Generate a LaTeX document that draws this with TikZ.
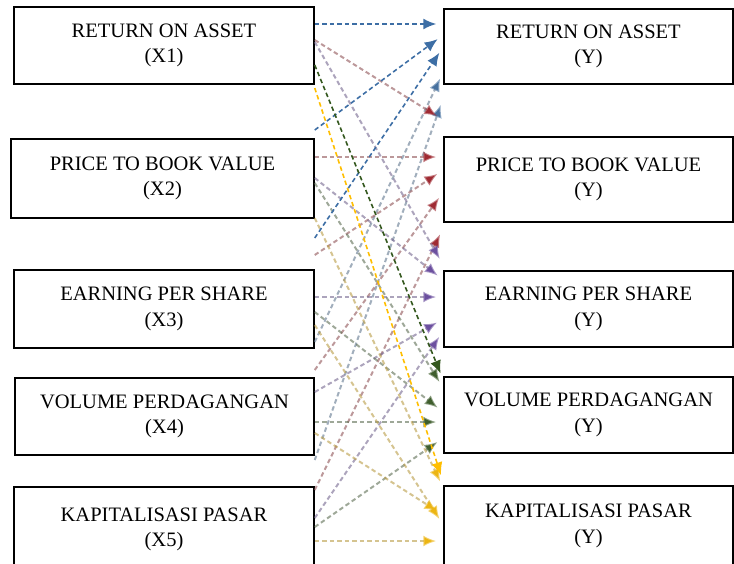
\documentclass[tikz,border=0pt]{standalone}
\usepackage{fontspec}
\setmainfont{Liberation Serif}
\usepackage{xcolor}
\usepackage{tikz}
\usetikzlibrary{arrows.meta, calc}

\definecolor{roaBlue}{RGB}{61,110,165}
\definecolor{pbvRed}{RGB}{165,28,38}
\definecolor{epsPurple}{RGB}{105,72,165}
\definecolor{volGreen}{RGB}{52,88,30}
\definecolor{capGold}{RGB}{255,190,0}

\tikzset{
  varbox/.style={draw, line width=1.5pt, inner sep=0pt, align=center,
    font=\fontsize{20.5}{25.5}\selectfont},
  link/.style={draw=#1, line width=1.6pt, dash pattern=on 4.5pt off 3pt,
    shorten >=7pt, -{Latex[length=13pt,width=11pt]}},
  faint/.style={draw=#1!45!gray, draw opacity=0.6, line width=2pt,
    dash pattern=on 4.5pt off 3pt, shorten >=7pt,
    -{Latex[length=13pt,width=11pt,color=#1!85!gray]}},
}

\begin{document}
\begin{tikzpicture}[x=1pt, y=-1pt]
    \useasboundingbox (0,0) rectangle (734,563);

    \node[varbox, minimum width=300pt, minimum height=77pt] (X1) at (164,45.5) {RETURN ON ASSET\\(X1)};
    \node[varbox, minimum width=303pt, minimum height=79pt] (X2) at (162.5,178.5) {PRICE TO BOOK VALUE\\(X2)};
    \node[varbox, minimum width=300pt, minimum height=78pt] (X3) at (164,309) {EARNING PER SHARE\\(X3)};
    \node[varbox, minimum width=299pt, minimum height=77pt] (X4) at (164.5,416.5) {VOLUME PERDAGANGAN\\(X4)};
    \node[varbox, minimum width=300pt, minimum height=85pt] (X5) at (164,529.5) {KAPITALISASI PASAR\\(X5)};

    \node[varbox, minimum width=289pt, minimum height=75pt] (Y1) at (588.5,46.5) {RETURN ON ASSET\\(Y)};
    \node[varbox, minimum width=289pt, minimum height=85pt] (Y2) at (588.5,179.5) {PRICE TO BOOK VALUE\\(Y)};
    \node[varbox, minimum width=289pt, minimum height=76pt] (Y3) at (588.5,309) {EARNING PER SHARE\\(Y)};
    \node[varbox, minimum width=289pt, minimum height=76pt] (Y4) at (588.5,415) {VOLUME PERDAGANGAN\\(Y)};
    \node[varbox, minimum width=289pt, minimum height=80pt] (Y5) at (588.5,526) {KAPITALISASI PASAR\\(Y)};

    % faint links first, bold ones on top
    \draw[faint=roaBlue] (X4.east |- 0,342) -- (Y1.west |- 0,72);
    \draw[faint=roaBlue] (X5.east |- 0,460) -- (Y1.west |- 0,98);

    \draw[faint=pbvRed] (X1.east |- 0,40) -- (Y2.west |- 0,120);
    \draw[faint=pbvRed] (X2.east |- 0,157) -- (Y2.west |- 0,157);
    \draw[faint=pbvRed] (X3.east |- 0,255) -- (Y2.west |- 0,170);
    \draw[faint=pbvRed] (X4.east |- 0,370) -- (Y2.west |- 0,192);
    \draw[faint=pbvRed] (X5.east |- 0,490) -- (Y2.west |- 0,228);

    \draw[faint=epsPurple] (X1.east |- 0,42) -- (Y3.west |- 0,265);
    \draw[faint=epsPurple] (X2.east |- 0,178) -- (Y3.west |- 0,280);
    \draw[faint=epsPurple] (X3.east |- 0,297) -- (Y3.west |- 0,297);
    \draw[faint=epsPurple] (X4.east |- 0,392) -- (Y3.west |- 0,319);
    \draw[faint=epsPurple] (X5.east |- 0,518) -- (Y3.west |- 0,331);

    \draw[faint=volGreen] (X2.east |- 0,183) -- (Y4.west |- 0,388);
    \draw[faint=volGreen] (X3.east |- 0,312) -- (Y4.west |- 0,412);
    \draw[faint=volGreen] (X4.east |- 0,422) -- (Y4.west |- 0,422);
    \draw[faint=volGreen] (X5.east |- 0,527) -- (Y4.west |- 0,438);

    \draw[faint=capGold] (X2.east |- 0,218) -- (Y5.west |- 0,488);
    \draw[faint=capGold] (X3.east |- 0,325) -- (Y5.west |- 0,525);
    \draw[faint=capGold] (X4.east |- 0,433) -- (Y5.west |- 0,515);
    \draw[faint=capGold] (X5.east |- 0,541) -- (Y5.west |- 0,541);

    \draw[link=roaBlue] (X1.east |- 0,24) -- (Y1.west |- 0,24);
    \draw[link=roaBlue] (X2.east |- 0,130) -- (Y1.west |- 0,35);
    \draw[link=roaBlue] (X3.east |- 0,238) -- (Y1.west |- 0,47);
    \draw[link=volGreen] (X1.east |- 0,65) -- (Y4.west |- 0,380);
    \draw[link=capGold] (X1.east |- 0,88) -- (Y5.west |- 0,482);
\end{tikzpicture}
\end{document}
